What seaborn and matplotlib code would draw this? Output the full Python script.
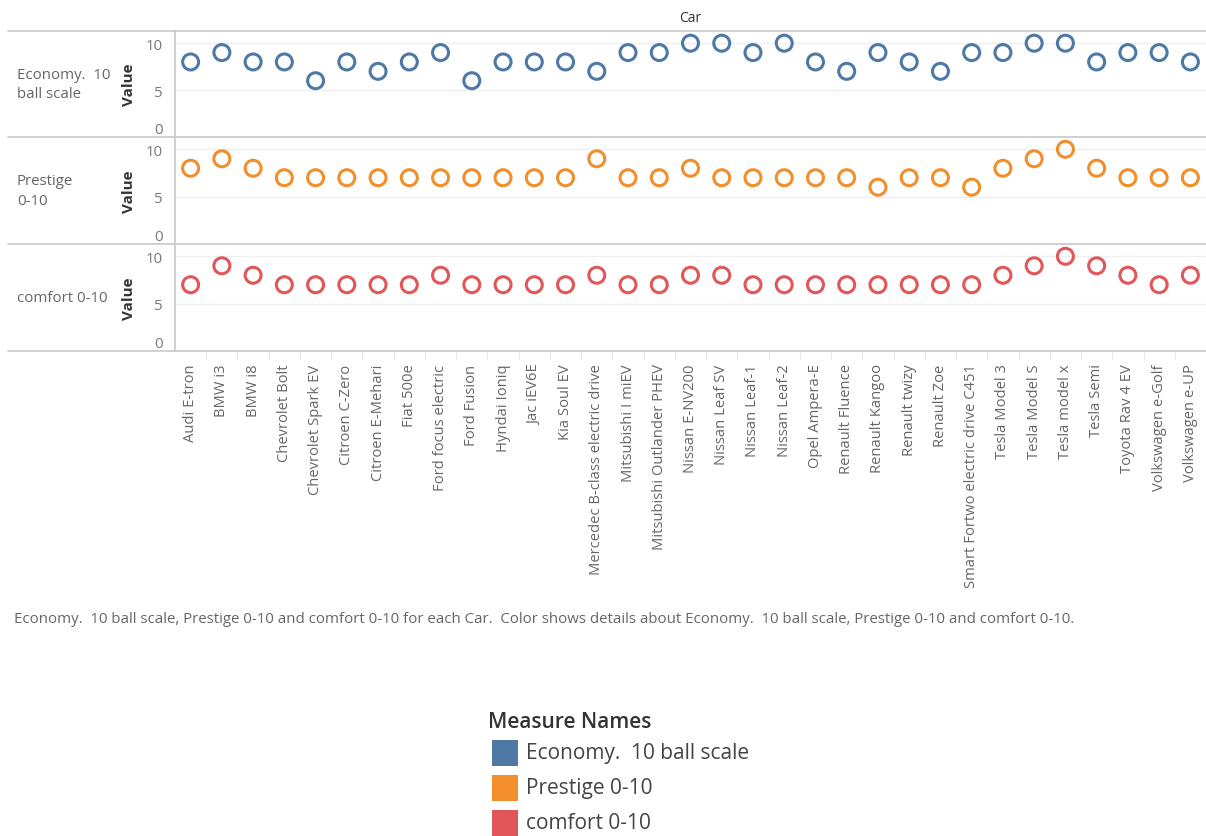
import pandas as pd
import matplotlib.pyplot as plt
import matplotlib.patches as mpatches
import seaborn as sns

cars = [
    "Audi E-tron", "BMW i3", "BMW i8", "Chevrolet Bolt", "Chevrolet Spark EV",
    "Citroen C-Zero", "Citroen E-Mehari", "Fiat 500e", "Ford focus electric",
    "Ford Fusion", "Hyndai Ioniq", "Jac iEV6E", "Kia Soul EV",
    "Mercedec B-class electric drive", "Mitsubishi I miEV",
    "Mitsubishi Outlander PHEV", "Nissan E-NV200", "Nissan Leaf SV",
    "Nissan Leaf-1", "Nissan Leaf-2", "Opel Ampera-E", "Renault Fluence",
    "Renault Kangoo", "Renault twizy", "Renault Zoe",
    "Smart Fortwo electric drive C451", "Tesla Model 3", "Tesla Model S",
    "Tesla model x", "Tesla Semi", "Toyota Rav 4 EV", "Volkswagen e-Golf",
    "Volkswagen e-UP",
]
economy = [8, 9, 8, 8, 6, 8, 7, 8, 9, 6, 8, 8, 8, 7, 9, 9, 10, 10, 9, 10,
           8, 7, 9, 8, 7, 9, 9, 10, 10, 8, 9, 9, 8]
prestige = [8, 9, 8, 7, 7, 7, 7, 7, 7, 7, 7, 7, 7, 9, 7, 7, 8, 7, 7, 7,
            7, 7, 6, 7, 7, 6, 8, 9, 10, 8, 7, 7, 7]
comfort = [7, 9, 8, 7, 7, 7, 7, 7, 8, 7, 7, 7, 7, 8, 7, 7, 8, 8, 7, 7,
           7, 7, 7, 7, 7, 7, 8, 9, 10, 9, 8, 7, 8]

measures = ["Economy.  10 ball scale", "Prestige 0-10", "comfort 0-10"]
row_labels = ["Economy.  10\nball scale", "Prestige\n0-10", "comfort 0-10"]
colors = ["#4e79a7", "#f28e2b", "#e15759"]

df = pd.DataFrame({"Car": cars, measures[0]: economy,
                   measures[1]: prestige, measures[2]: comfort})
long = df.melt(id_vars="Car", var_name="Measure", value_name="Value")

sns.set_theme(style="white")
plt.rcParams["font.family"] = ["Open Sans", "DejaVu Sans"]

W, H = 1206, 837
fig = plt.figure(figsize=(W / 100, H / 100), dpi=100)


def fx(px):
    return px / W


def fy(py):
    return 1 - py / H


line_c = "#c8c8c8"
panel_top = [32, 138, 245]
panel_h = [106, 107, 107]
x0, x1 = 175, 1206

for i, m in enumerate(measures):
    top = panel_top[i]
    bot = top + panel_h[i]
    ax = fig.add_axes([fx(x0), fy(bot), fx(x1 - x0), panel_h[i] / H])
    sub = long[long["Measure"] == m]
    sns.stripplot(data=sub, x="Car", y="Value", order=cars, jitter=False,
                  ax=ax, color=colors[i], facecolor="none",
                  edgecolor=colors[i], linewidth=2.2, size=11.5)
    ax.set_ylim(0, 11.3)
    ax.set_xlim(-0.5, len(cars) - 0.5)
    ax.set_yticks([0, 5, 10])
    ax.set_yticklabels(["0", "5", "10"])
    ax.yaxis.grid(True, color="#efefef", linewidth=1)
    ax.set_axisbelow(True)
    for s in ax.spines.values():
        s.set_visible(False)
    ax.tick_params(axis="y", length=0, pad=9, labelsize=10.8, labelcolor="#777777")
    ax.get_yticklabels()[0].set_va("bottom")
    ax.set_ylabel("")
    ax.set_xlabel("")
    if i < 2:
        ax.set_xticklabels([])
        ax.tick_params(axis="x", length=0)
    else:
        ax.set_xticks(range(len(cars)))
        ax.set_xticklabels(cars, rotation=90)
        ax.set_xticks([k + 0.5 for k in range(len(cars) - 1)], minor=True)
        ax.tick_params(axis="x", which="major", length=0, pad=9,
                       labelsize=10.6, labelcolor="#666666")
        ax.tick_params(axis="x", which="minor", length=6, width=0.8,
                       color="#e6e6e6", bottom=True)
    # row label and axis title
    cy = top + panel_h[i] / 2
    fig.text(fx(17), fy(cy), row_labels[i], ha="left", va="center",
             fontsize=10.8, color="#666666", linespacing=1.45)
    fig.text(fx(129), fy(cy), "Value", rotation=90, ha="center", va="center",
             fontsize=11, fontweight="bold", color="#333333")

# frame lines
for y in [32, 138, 245, 352]:
    fig.add_artist(plt.Line2D([fx(8), fx(W)], [fy(y), fy(y)],
                              color=line_c, linewidth=1.2))
fig.add_artist(plt.Line2D([fx(x0), fx(x0)], [fy(32), fy(352)],
                          color=line_c, linewidth=1.2))

fig.text(fx(690), fy(18), "Car", ha="center", va="center",
         fontsize=10, color="#333333")

fig.text(fx(14), fy(620),
         "Economy.  10 ball scale, Prestige 0-10 and comfort 0-10 for each Car.  "
         "Color shows details about Economy.  10 ball scale, Prestige 0-10 and comfort 0-10.",
         ha="left", va="center", fontsize=10.8, color="#666666")

# legend
fig.text(fx(488), fy(723), "Measure Names", ha="left", va="center",
         fontsize=15, fontweight="semibold", color="#333333")
for j, m in enumerate(measures):
    cy = 754 + j * 35
    fig.add_artist(mpatches.Rectangle((fx(492), fy(cy + 13)), fx(26), 26 / H,
                                      facecolor=colors[j], edgecolor="none"))
    fig.text(fx(526), fy(cy), m, ha="left", va="center",
             fontsize=15, color="#444444")

plt.savefig("out.png", dpi=100)
